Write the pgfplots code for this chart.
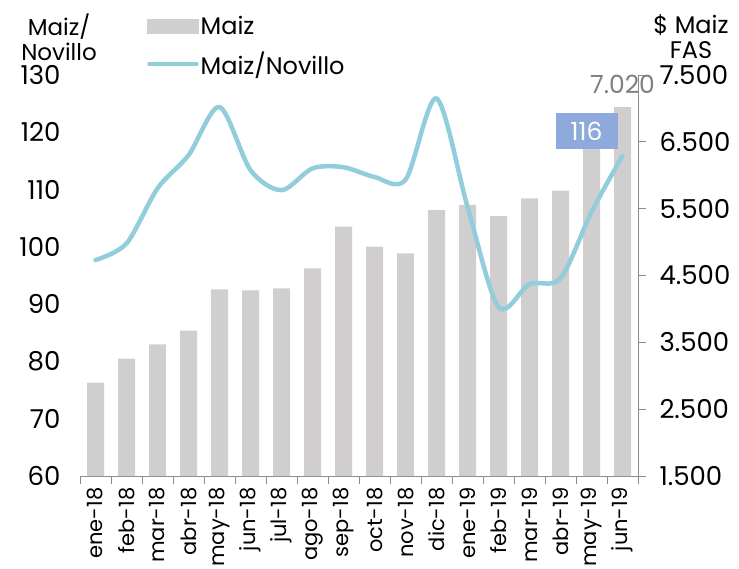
\documentclass[border=0pt]{standalone}
\usepackage{fontspec}
\setmainfont{Poppins}
\usepackage{pgfplots}
\pgfplotsset{compat=1.18}
\definecolor{barcol}{HTML}{D0CECE}
\definecolor{linecol}{HTML}{92CDDC}
\definecolor{axcol}{HTML}{8C8C8C}
\definecolor{lblbox}{HTML}{8EA9DB}
\definecolor{lblgray}{HTML}{808080}
\begin{document}
\begin{tikzpicture}[x=1pt,y=1pt]
\useasboundingbox (0,0) rectangle (739,568);
\pgfplotsset{
  base/.style={
    at={(80pt,92pt)}, anchor=south west,
    width=558pt, height=401pt, scale only axis,
    xmin=-0.5, xmax=17.5, clip=false,
    /pgf/number format/assume math mode=true,
  }
}
\begin{axis}[base,
  ymin=1500, ymax=7500, ytick={1500,2500,...,7500},
  axis y line*=right, axis x line*=bottom,
  axis line style={axcol, line width=0.8pt},
  tick align=outside,
  major tick length=8pt, minor tick length=8pt,
  y tick style={axcol, line width=0.8pt},
  major x tick style={draw=none},
  minor x tick style={axcol, line width=0.8pt},
  xtick={0,...,17},
  minor xtick={-0.5,0.5,...,17.5},
  xticklabels={ene-18,feb-18,mar-18,abr-18,may-18,jun-18,jul-18,ago-18,sep-18,oct-18,nov-18,dic-18,ene-19,feb-19,mar-19,abr-19,may-19,jun-19},
  xticklabel style={rotate=90, anchor=east, font=\fontsize{21}{21}\selectfont},
  yticklabel style={font=\fontsize{26}{26}\selectfont, anchor=west, xshift=10pt,
    /pgf/number format/.cd, fixed, 1000 sep={.}},
]
\addplot[ybar, bar width=17pt, fill=barcol, draw=none] coordinates {
(0,2896) (1,3255) (2,3471) (3,3675) (4,4294) (5,4279) (6,4309) (7,4608) (8,5231)
(9,4931) (10,4832) (11,5480) (12,5555) (13,5390) (14,5655) (15,5770) (16,6450) (17,7020)};
\node[anchor=south, text=lblgray, font=\fontsize{25}{25}\selectfont, yshift=13pt, inner sep=0pt] at (axis cs:17,7020) {7.020};
\end{axis}
\begin{axis}[base,
  ymin=60, ymax=130, ytick={60,70,...,130},
  axis y line*=left, axis x line=none,
  y axis line style={draw=none},
  y tick style={draw=none}, major tick length=0pt,
  yticklabel style={font=\fontsize{26}{26}\selectfont, anchor=east, xshift=-16pt},
  legend style={at={(0.12,1.152)}, anchor=north west, draw=none, fill=none,
    inner sep=0pt, font=\fontsize{24}{24}\selectfont, row sep=12pt,
    nodes={inner sep=2pt}},
  legend cell align=left,
]
\addlegendimage{legend image code/.code={\fill[barcol] (0pt,-7pt) rectangle (51pt,7pt);}}
\addlegendentry{Maiz}
\addlegendimage{legend image code/.code={\draw[linecol, line width=4.5pt, line cap=round] (2pt,0pt) -- (49pt,0pt);}}
\addlegendentry{Maiz/Novillo}
\addplot[forget plot, smooth, tension=0.5, linecol, line width=4.5pt, line cap=round] coordinates {
(0,97.7) (1,100.6) (2,110.2) (3,116) (4,124.4) (5,113.4) (6,109.9) (7,113.7) (8,113.9)
(9,112.2) (10,111.7) (11,125.9) (12,107) (13,89.5) (14,93.5) (15,94.5) (16,106.1) (17,115.9)};
\node[fill=lblbox, text=white, font=\fontsize{25}{25}\selectfont, minimum width=62pt, minimum height=36pt] at (axis cs:15.84,116) [yshift=24pt] {116};
\end{axis}
\node[align=center, font=\fontsize{23}{25}\selectfont] at (59,531) {Maiz/\\Novillo};
\node[align=center, font=\fontsize{24}{25}\selectfont] at (691,531) {\$ Maiz\\FAS};
\end{tikzpicture}
\end{document}
